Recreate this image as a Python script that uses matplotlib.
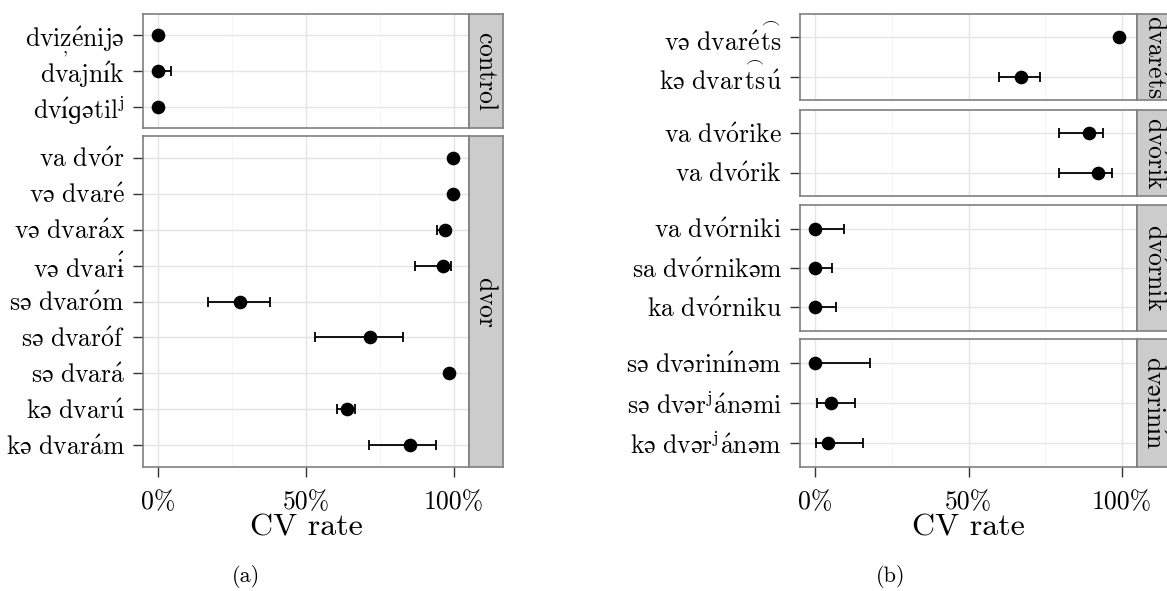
import numpy as np
import matplotlib
matplotlib.use("Agg")
import matplotlib.pyplot as plt

plt.rcParams['font.family'] = ['cmr10', 'STIXGeneral']
plt.rcParams['mathtext.fontset'] = 'cm'
plt.rcParams['axes.unicode_minus'] = False

W, H = 1167, 591

# ---- panel (a) data ----
control_labels = ["dviz\u0328énijə", "dvajník", "dvíɡətilʲ"]
control_rate = [0.0, 0.0, 0.0]
control_lo = [0.0, 0.0, 0.0]
control_hi = [0.0, 0.043, 0.0]

dvor_labels = ["va dvór", "və dvaré", "və dvaráx", "və dvarɨ\u0301", "sə dvaróm",
               "sə dvaróf", "sə dvará", "kə dvarú", "kə dvarám"]
dvor_rate = [0.995, 0.995, 0.970, 0.961, 0.277, 0.716, 0.981, 0.637, 0.851]
dvor_lo = [0.995, 0.995, 0.941, 0.868, 0.170, 0.530, 0.981, 0.604, 0.713]
dvor_hi = [0.995, 0.995, 0.984, 0.989, 0.378, 0.827, 0.981, 0.667, 0.938]

# ---- panel (b) data ----
dvarets_labels = ["və dvarét\u0361s", "kə dvart\u0361sú"]
dvarets_rate = [0.990, 0.671]
dvarets_lo = [0.990, 0.599]
dvarets_hi = [0.990, 0.733]

dvorik_labels = ["va dvórike", "va dvórik"]
dvorik_rate = [0.892, 0.922]
dvorik_lo = [0.795, 0.795]
dvorik_hi = [0.939, 0.969]

dvornik_labels = ["va dvórniki", "sa dvórnikəm", "ka dvórniku"]
dvornik_rate = [0.0, 0.0, 0.0]
dvornik_lo = [0.0, 0.0, 0.0]
dvornik_hi = [0.095, 0.055, 0.067]

dverinin_labels = ["sə dvərinínəm", "sə dvərʲánəmi", "kə dvərʲánəm"]
dverinin_rate = [0.0, 0.052, 0.041]
dverinin_lo = [0.0, 0.005, 0.002]
dverinin_hi = [0.179, 0.128, 0.155]

strips_a = ["control", "dvor"]
strips_b = ["dvaréts", "dvórik", "dvórnik", "dvərinín"]

BORDER = "#7F7F7F"
FS = 18.5

ACUTE = {"á": "a", "é": "e", "í": "ı", "ó": "o", "ú": "u"}


def tex(s):
    # turn the IPA-ish label into computer modern mathtext
    out = []
    i = 0
    while i < len(s):
        c = s[i]
        nxt = s[i + 1] if i + 1 < len(s) else ""
        if c in ACUTE:
            out.append(r"\acute{%s}" % ACUTE[c])
        elif nxt == "\u0301":
            out.append(r"\acute{%s}" % c)
            i += 1
        elif nxt == "\u0361":
            out.append(r"\overset{\frown}{%s%s}" % (c, s[i + 2]))
            i += 2
        elif nxt == "\u0328":
            out.append(r"\underset{,}{%s}" % c)
            i += 1
        elif c == "ʲ":
            out.append(r"^{j}")
        elif c == " ":
            out.append(r"\ ")
        else:
            out.append(c)
        i += 1
    return r"$\mathrm{" + "".join(out) + "}$"


def px_axes(fig, x0, y0, x1, y1):
    return fig.add_axes([x0 / W, 1 - y1 / H, (x1 - x0) / W, (y1 - y0) / H])


def facet(fig, x0, x1, y0, y1, labels, rate, lo, hi, strip, bottom=False):
    ax = px_axes(fig, x0, y0, x1, y1)
    n = len(labels)
    ypos = np.arange(n)[::-1]
    rate = np.array(rate)
    err = [rate - np.array(lo), np.array(hi) - rate]
    ax.errorbar(rate, ypos, xerr=err, fmt='o', color='black', ms=8.8,
                elinewidth=1.3, capsize=3.4, capthick=1.3, zorder=3)
    ax.set_xlim(-0.05, 1.05)
    ax.set_ylim(-0.6, n - 1 + 0.6)
    ax.set_yticks(ypos)
    ax.set_yticklabels([tex(l) for l in labels], fontsize=FS)
    ax.set_xticks([0, 0.5, 1])
    ax.set_xticks([0.25, 0.75], minor=True)
    ax.grid(True, which='major', color='#E5E5E5', lw=1.0, zorder=0)
    ax.grid(True, which='minor', axis='x', color='#F5F5F5', lw=0.8, zorder=0)
    ax.set_axisbelow(True)
    ax.tick_params(axis='both', which='major', length=7, width=1.0,
                   color='#333333')
    ax.tick_params(axis='y', pad=6)
    ax.tick_params(axis='x', pad=10)
    ax.tick_params(axis='x', which='minor', length=0)
    for sp in ax.spines.values():
        sp.set_color(BORDER)
        sp.set_linewidth(1.2)
    if bottom:
        ax.set_xticklabels(["0%", "50%", "100%"], fontsize=FS)
        ax.set_xlabel("CV rate", fontsize=23, labelpad=0)
    else:
        ax.tick_params(axis='x', which='major', length=0, labelbottom=False)
    # strip
    sx = px_axes(fig, x1, y0, x1 + 34, y1)
    sx.set_facecolor('#CCCCCC')
    sx.set_xticks([])
    sx.set_yticks([])
    for sp in sx.spines.values():
        sp.set_color(BORDER)
        sp.set_linewidth(1.2)
    sx.text(0.5, 0.5, tex(strip), rotation=-90, ha='center', va='center',
            fontsize=FS, transform=sx.transAxes, clip_on=False)
    return ax


fig = plt.figure(figsize=(W / 100, H / 100), dpi=100)

# (a)
facet(fig, 143, 469, 14, 128, control_labels, control_rate,
      control_lo, control_hi, strips_a[0])
facet(fig, 143, 469, 136, 467, dvor_labels, dvor_rate,
      dvor_lo, dvor_hi, strips_a[1], bottom=True)

# (b)
facet(fig, 800, 1137, 14, 100, dvarets_labels, dvarets_rate,
      dvarets_lo, dvarets_hi, strips_b[0])
facet(fig, 800, 1137, 110, 196, dvorik_labels, dvorik_rate,
      dvorik_lo, dvorik_hi, strips_b[1])
facet(fig, 800, 1137, 205, 331, dvornik_labels, dvornik_rate,
      dvornik_lo, dvornik_hi, strips_b[2])
facet(fig, 800, 1137, 339, 467, dverinin_labels, dverinin_rate,
      dverinin_lo, dverinin_hi, strips_b[3], bottom=True)

fig.text(246 / W, 1 - 577 / H, "(a)", ha='center', va='center', fontsize=16)
fig.text(891 / W, 1 - 577 / H, "(b)", ha='center', va='center', fontsize=16)

fig.savefig("out.png", dpi=100)
